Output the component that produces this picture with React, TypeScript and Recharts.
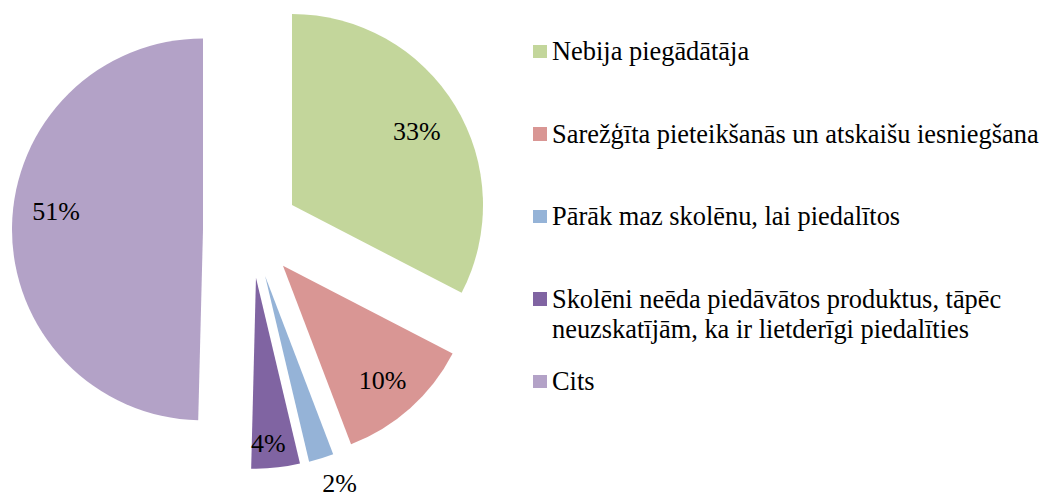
import { PieChart, Pie, Cell, Legend } from 'recharts';

// slice shares, labels as printed on it
const NAMES = [
  'Nebija piegādātāja',
  'Sarežģīta pieteikšanās un atskaišu iesniegšana',
  'Pārāk maz skolēnu, lai piedalītos',
  'Skolēni neēda piedāvātos produktus, tāpēc neuzskatījām, ka ir lietderīgi piedalīties',
  'Cits',
];
const SHARES = [32.6, 11.6, 2.1, 4.1, 49.6];
const LABELS = ['33%', '10%', '2%', '4%', '51%'];
const COLORS = ['#C3D69B', '#D99694', '#95B3D7', '#8064A2', '#B3A2C7'];

// label placement: fraction of radius, angle shift in degrees
const LABEL_RADIUS = [0.76, 0.795, 1.155, 0.87, 0.775];
const LABEL_SHIFT = [-0.7, -0.75, 2.6, -1.7, -6.2];

const FONT = '"Liberation Serif", "Times New Roman", serif';
const CX = 243;
const CY = 222;
const RADIUS = 191;
const EXPLODE = 48;

const data = NAMES.map((name, i) => ({ name, value: SHARES[i], label: LABELS[i] }));
const total = SHARES.reduce((a, b) => a + b, 0);

const midAngles = SHARES.map((v, i) => {
  const before = SHARES.slice(0, i).reduce((a, b) => a + b, 0);
  return 90 - (360 * (before + v / 2)) / total;
});

const RAD = Math.PI / 180;

function renderLabel(props: any, slice: number) {
  if (props.index !== slice) return null;
  const r = props.outerRadius * LABEL_RADIUS[slice];
  const a = (props.midAngle + LABEL_SHIFT[slice]) * RAD;
  const x = props.cx + r * Math.cos(a);
  const y = props.cy - r * Math.sin(a);
  return (
    <text
      x={x}
      y={y}
      textAnchor="middle"
      dominantBaseline="central"
      fontFamily={FONT}
      fontSize={26}
      fill="#000"
    >
      {LABELS[slice]}
    </text>
  );
}

function LegendBox() {
  return (
    <div style={{ fontFamily: FONT, fontSize: 26.4, color: '#000' }}>
      {NAMES.map((name, i) => (
        <div key={name} style={{ display: 'flex', alignItems: 'flex-start', height: 82.5 }}>
          <span
            style={{
              flex: 'none',
              width: 13.5,
              height: 13.5,
              marginTop: 8.5,
              marginRight: 5.5,
              background: COLORS[i],
            }}
          />
          <span style={{ width: 495, lineHeight: '30px' }}>{name}</span>
        </div>
      ))}
    </div>
  );
}

export default function App() {
  return (
    <div style={{ fontFamily: FONT }}>
      <PieChart width={1040} height={489} margin={{ top: 0, right: 0, bottom: 0, left: 0 }}>
        {SHARES.map((_, i) => {
          const m = midAngles[i] * RAD;
          return (
            <Pie
              key={i}
              data={data}
              dataKey="value"
              nameKey="name"
              cx={CX + EXPLODE * Math.cos(m)}
              cy={CY - EXPLODE * Math.sin(m)}
              outerRadius={RADIUS}
              startAngle={90}
              endAngle={-270}
              stroke="none"
              isAnimationActive={false}
              labelLine={false}
              label={(p: any) => renderLabel(p, i)}
            >
              {data.map((d, j) => (
                <Cell key={d.name} fill={j === i ? COLORS[j] : 'transparent'} />
              ))}
            </Pie>
          );
        })}
        <Legend
          layout="vertical"
          align="right"
          verticalAlign="top"
          wrapperStyle={{ left: 525, top: 28, width: 515 }}
          content={() => <LegendBox />}
        />
      </PieChart>
    </div>
  );
}
